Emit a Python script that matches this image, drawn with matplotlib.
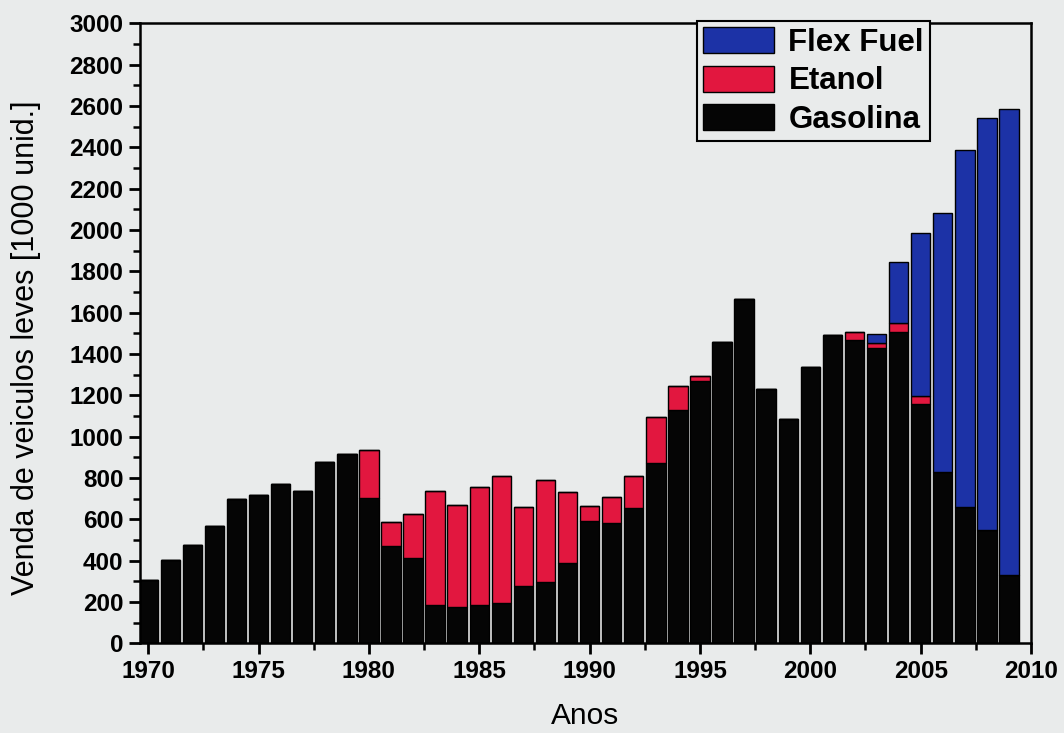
# vendas_veiculos.py
# Vendas anuais de veiculos leves no Brasil por combustivel (barras empilhadas)

import numpy as np
import matplotlib.pyplot as plt
from matplotlib.ticker import MultipleLocator

plt.rcParams["font.family"] = ["Liberation Sans", "DejaVu Sans"]

anos = list(range(1970, 2010))

# vendas em milhares de unidades
gasolina = [305, 403, 476, 569, 698, 717, 769, 737, 879, 916,
            701, 471, 411, 185, 177, 185, 196, 277, 295, 390,
            593, 580, 653, 871, 1129, 1270, 1459, 1664, 1230, 1085,
            1335, 1491, 1467, 1427, 1505, 1160, 830, 658, 548, 330]
etanol = [0, 0, 0, 0, 0, 0, 0, 0, 0, 0,
          234, 117, 213, 552, 492, 573, 615, 384, 495, 340,
          71, 126, 158, 225, 116, 25, 0, 0, 0, 0,
          0, 0, 40, 28, 45, 35, 0, 0, 0, 0]
flex = [0] * 33 + [40, 293, 788, 1250, 1728, 1992, 2255]

series_labels = ["Gasolina", "Etanol", "Flex Fuel"]
series_colors = ["#050505", "#e2173f", "#1c32a6"]

fundo = "#e9ebeb"

fig = plt.figure(figsize=(10.64, 7.33), dpi=100, facecolor=fundo)
ax = fig.add_axes([0.1316, 0.1224, 0.8374, 0.8458], facecolor=fundo)

x = np.array(anos)
gas = np.array(gasolina)
eta = np.array(etanol)
flx = np.array(flex)

kw = dict(width=0.88, edgecolor="black", linewidth=1.0, zorder=2)
b_gas = ax.bar(x, gas, color=series_colors[0], label=series_labels[0], **kw)
b_eta = ax.bar(x, eta, bottom=gas, color=series_colors[1], label=series_labels[1], **kw)
b_flx = ax.bar(x, flx, bottom=gas + eta, color=series_colors[2], label=series_labels[2], **kw)

ax.set_xlim(1969.63, 2010)
ax.set_ylim(0, 3000)

ax.xaxis.set_major_locator(MultipleLocator(5))
ax.xaxis.set_minor_locator(MultipleLocator(2.5))
ax.yaxis.set_major_locator(MultipleLocator(200))
ax.yaxis.set_minor_locator(MultipleLocator(100))

ax.tick_params(axis="both", which="major", direction="out", length=8, width=2.0,
               labelsize=17.5, pad=4)
ax.tick_params(axis="both", which="minor", direction="out", length=5, width=1.8)
ax.tick_params(top=False, right=False, which="both")
for lab in ax.get_xticklabels() + ax.get_yticklabels():
    lab.set_fontweight("bold")

for sp in ax.spines.values():
    sp.set_linewidth(1.8)

ax.set_xlabel("Anos", fontsize=21.5, labelpad=14)
ax.set_ylabel("Venda de veiculos leves [1000 unid.]", fontsize=22)
ax.yaxis.set_label_coords(-0.111, 0.476)

leg = ax.legend([b_flx, b_eta, b_gas], ["Flex Fuel", "Etanol", "Gasolina"],
                loc="upper left", bbox_to_anchor=(0.625, 1.003),
                prop={"size": 22.5, "weight": "bold"}, frameon=True, fancybox=False,
                edgecolor="black", facecolor=fundo, framealpha=1,
                handlelength=2.3, handleheight=0.9, labelspacing=0.25,
                handletextpad=0.45, borderpad=0.18, borderaxespad=0)
leg.get_frame().set_linewidth(1.5)

plt.savefig("out.png", dpi=100, facecolor=fundo)
